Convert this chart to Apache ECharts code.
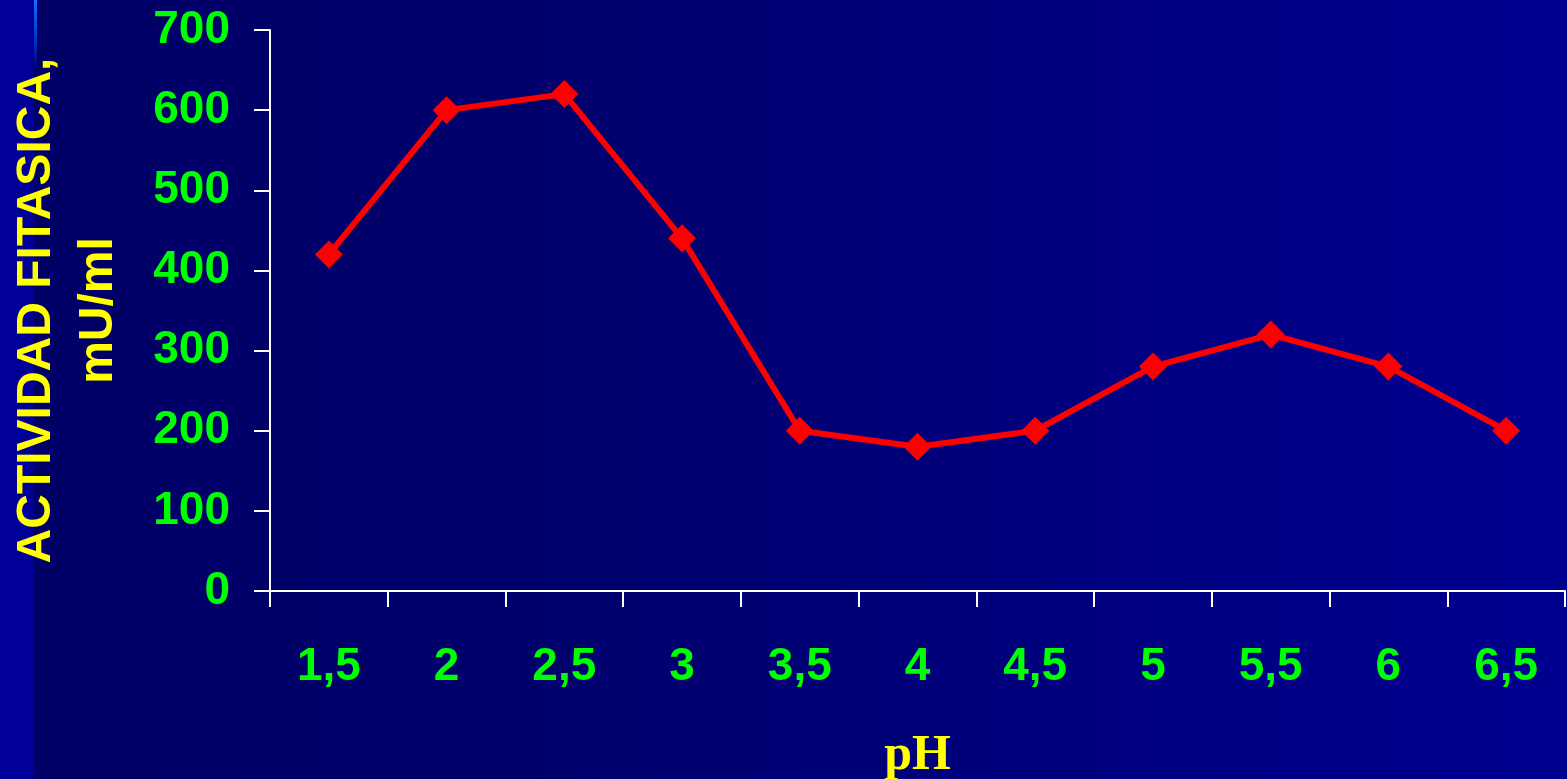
<!DOCTYPE html>
<html>
<head>
<meta charset="utf-8">
<script src="https://cdn.jsdelivr.net/npm/echarts@6/dist/echarts.min.js"></script>
<style>
  html, body {
    margin: 0;
    padding: 0;
    width: 1567px;
    height: 779px;
    overflow: hidden;
  }
  body {
    background:
      linear-gradient(to bottom, #1a6cff 0px, #0033cc 40px, rgba(0,0,153,0) 70px) 34px 0 / 3px 100% no-repeat,
      linear-gradient(#000099, #000099) 0 0 / 34px 100% no-repeat,
      linear-gradient(to right, #000066 34px, #00006e 600px, #000090 1567px);
  }
  #chart {
    width: 1567px;
    height: 779px;
  }
</style>
</head>
<body>
<div id="chart"></div>
<script>
// pH values on the x axis
var phLabels = ['1,5', '2', '2,5', '3', '3,5', '4', '4,5', '5', '5,5', '6', '6,5']
// phytase activity, mU/ml
var actividad = [420, 600, 620, 440, 200, 180, 200, 280, 320, 280, 200]

var chart = echarts.init(document.getElementById('chart'))

chart.setOption({
  backgroundColor: 'transparent',
  animation: false,
  grid: {
    left: 270,
    right: 2,
    top: 30,
    bottom: 188,
    containLabel: false,
    outerBoundsMode: 'none'
  },
  xAxis: {
    type: 'category',
    data: phLabels,
    boundaryGap: true,
    name: 'pH',
    nameLocation: 'middle',
    nameGap: 140,
    nameTextStyle: {
      color: '#ffff00',
      fontFamily: 'Liberation Serif',
      fontWeight: 'bold',
      fontSize: 50
    },
    axisLine: {
      lineStyle: { color: '#ffffff', width: 2 }
    },
    axisTick: {
      show: true,
      length: 16,
      lineStyle: { color: '#ffffff', width: 2 }
    },
    axisLabel: {
      color: '#00ff00',
      fontFamily: 'Liberation Sans',
      fontWeight: 'bold',
      fontSize: 46,
      margin: 53
    },
    splitLine: { show: false }
  },
  yAxis: {
    type: 'value',
    min: 0,
    max: 700,
    interval: 100,
    name: 'ACTIVIDAD FITASICA,\nmU/ml',
    nameLocation: 'middle',
    nameRotate: 90,
    nameGap: 140,
    nameTextStyle: {
      color: '#ffff00',
      fontFamily: 'Liberation Sans',
      fontWeight: 'bold',
      fontSize: 48,
      lineHeight: 62,
      align: 'center'
    },
    axisLine: {
      show: true,
      lineStyle: { color: '#ffffff', width: 2 }
    },
    axisTick: {
      show: true,
      length: 16,
      lineStyle: { color: '#ffffff', width: 2 }
    },
    axisLabel: {
      color: '#00ff00',
      fontFamily: 'Liberation Sans',
      fontWeight: 'bold',
      fontSize: 46,
      margin: 40
    },
    splitLine: { show: false }
  },
  series: [
    {
      name: 'actividad',
      type: 'line',
      data: actividad,
      symbol: 'diamond',
      symbolSize: 28,
      lineStyle: { color: '#ff0000', width: 6 },
      itemStyle: { color: '#ff0000' }
    }
  ]
})
</script>
</body>
</html>
